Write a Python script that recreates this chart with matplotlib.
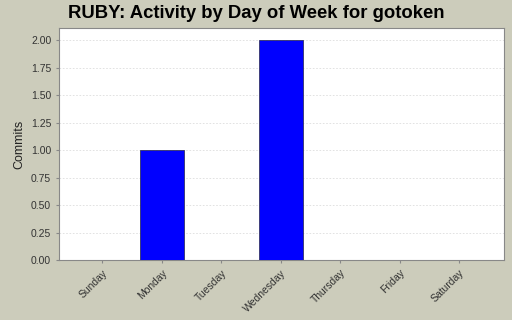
import matplotlib
matplotlib.use('Agg')
import matplotlib.pyplot as plt

plt.rcParams['font.family'] = ['Liberation Sans', 'DejaVu Sans']

days = ['Sunday', 'Monday', 'Tuesday', 'Wednesday', 'Thursday', 'Friday', 'Saturday']
commits = [0, 1, 0, 2, 0, 0, 0]
yticks = [0.0, 0.25, 0.5, 0.75, 1.0, 1.25, 1.5, 1.75, 2.0]

bg = '#CCCCBB'
fig = plt.figure(figsize=(5.12, 3.2), dpi=100, facecolor=bg)
ax = fig.add_axes([0.115, 0.1875, 0.869, 0.725])

ax.bar(range(len(days)), commits, width=0.74, color='#0000FF',
       edgecolor='#333366', linewidth=0.6, zorder=3)

ax.set_xlim(-0.73, 6.75)
ax.set_ylim(0, 2.11)
ax.set_yticks(yticks)
ax.set_yticklabels(['%.2f' % v for v in yticks], fontsize=7.5, color='#333333')
ax.set_xticks(range(len(days)))
ax.set_xticklabels(days, rotation=45, ha='right', rotation_mode='anchor',
                   fontsize=7.5, color='#333333')
ax.tick_params(axis='both', length=2, color='#888888')
ax.grid(axis='y', linestyle=(0, (2, 2)), color='#DDDDDD', linewidth=0.6, zorder=0)
for s in ax.spines.values():
    s.set_color('#888888')
ax.set_ylabel('Commits', fontsize=9, color='#222222')

fig.suptitle('RUBY: Activity by Day of Week for gotoken', fontsize=13.3,
             fontweight='bold', x=0.5, y=0.985)

fig.savefig('out.png', facecolor=bg)
